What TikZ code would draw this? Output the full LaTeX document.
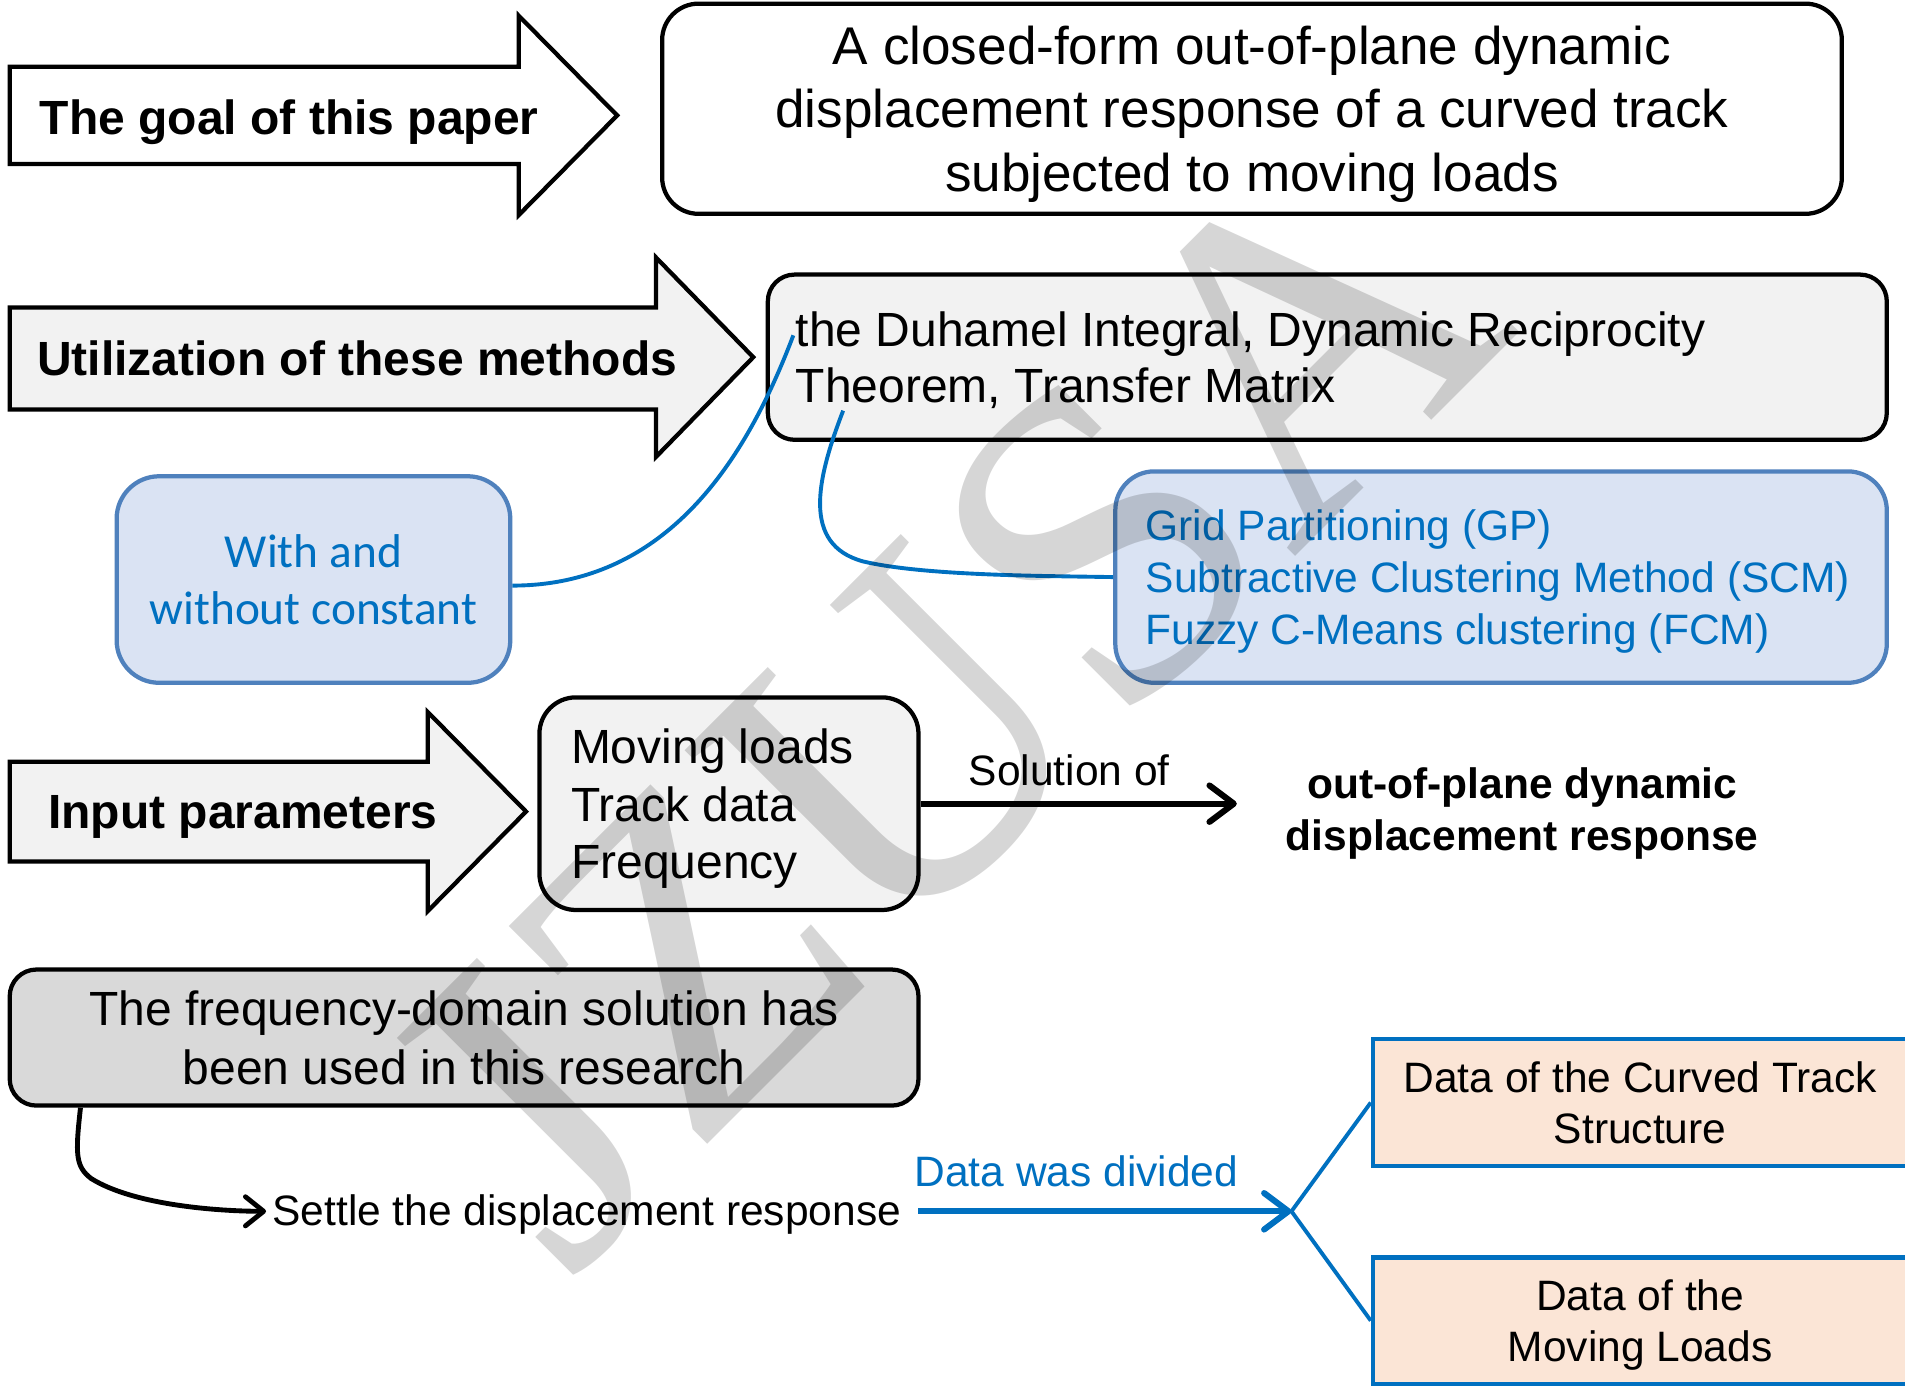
\documentclass[tikz,border=0pt]{standalone}
\usepackage{fontspec}
\setmainfont{Liberation Sans}
\newfontfamily\calibrifont{Carlito}
\newfontfamily\wmfont{Liberation Serif}
\usetikzlibrary{arrows.meta}
\definecolor{lgray}{HTML}{F2F2F2}
\definecolor{mgray}{HTML}{D9D9D9}
\definecolor{lblue}{HTML}{DAE3F3}
\definecolor{bborder}{HTML}{4F81BD}
\definecolor{tblue}{HTML}{0070C0}
\definecolor{peach}{HTML}{FBE5D6}
\newcommand\fsBig{\fontsize{43.7}{52.5}\selectfont}
\newcommand\fsMid{\fontsize{39.5}{46.5}\selectfont}
\newcommand\fsMidB{\fontsize{39.5}{47.5}\selectfont}
\newcommand\fsSmall{\fontsize{35}{42.3}\selectfont}
\newcommand\fsCal{\fontsize{39}{47}\selectfont}
\begin{document}
\begin{tikzpicture}[x=1pt,y=-1pt,
  every node/.append style={text depth=0pt},
  blockarrow/.style={draw=black,line width=3.5pt,line join=miter},
  arrowtext/.style={font=\bfseries\fsMid,inner sep=0pt},
  blackbox/.style={draw=black,line width=3.5pt,inner sep=0pt},
  bluebox/.style={draw=bborder,fill=lblue,line width=3.5pt,inner sep=0pt,text=tblue},
  peachbox/.style={draw=tblue,fill=peach,line width=3.5pt,inner sep=0pt,align=center,font=\fsSmall,minimum width=440pt},
  thickarrow/.style={draw=black,line width=5pt,-{Straight Barb[length=20pt,width=30pt,round]}},
  bluearrow/.style={draw=tblue,line width=5pt,-{Straight Barb[length=20pt,width=30pt,round]}},
  blackcurve/.style={draw=black,line width=4pt,-{Straight Barb[length=15pt,width=24pt,round]}},
  bluecurve/.style={draw=tblue,line width=3.2pt},
  blueline/.style={draw=tblue,line width=3.2pt},
  plaintext/.style={inner sep=0pt,font=\fsSmall}]
\useasboundingbox (0,0) rectangle (1568,1141);
\fill[white] (0,0) rectangle (1568,1141);

% block arrows
\draw[blockarrow,fill=white] (8,55) -- (427,55) -- (427,13) -- (508,95) -- (427,177) -- (427,135) -- (8,135) -- cycle;
\node[arrowtext] (goaltxt) at (238,96) {The goal of this paper};
\draw[blockarrow,fill=lgray] (8,253) -- (540,253) -- (540,212) -- (620,294) -- (540,376) -- (540,337) -- (8,337) -- cycle;
\node[arrowtext] (usetxt) at (294,295) {Utilization of these methods};
\draw[blockarrow,fill=lgray] (8,627) -- (352,627) -- (352,586) -- (433,668) -- (352,750) -- (352,709) -- (8,709) -- cycle;
\node[arrowtext] (inputtxt) at (200,668) {Input parameters};

% boxes
\node[blackbox,fill=white,rounded corners=30pt,minimum width=971pt,minimum height=173pt,align=center,font=\fsBig] (goal) at (1030.5,89.5)
  {A closed-form out-of-plane dynamic\\displacement response of a curved track\\subjected to moving loads};
\node[blackbox,fill=lgray,rounded corners=22pt,minimum width=921pt,minimum height=136pt,inner xsep=23pt,align=left,font=\fsMid] (methods) at (1092.5,294)
  {\makebox[875pt][l]{the Duhamel Integral, Dynamic Reciprocity}\\Theorem, Transfer Matrix};
\node[bluebox,rounded corners=35pt,minimum width=324pt,minimum height=170pt,align=center,font=\calibrifont\fsCal] (wwc) at (258,477)
  {With and\\without constant};
\node[bluebox,rounded corners=32pt,minimum width=635pt,minimum height=174pt,inner xsep=25pt,align=left,font=\fontsize{35}{42.5}\selectfont] (gp) at (1235.5,475)
  {\makebox[585pt][l]{Grid Partitioning (GP)}\\Subtractive Clustering Method (SCM)\\Fuzzy C-Means clustering (FCM)};
\node[blackbox,fill=lgray,rounded corners=30pt,minimum width=312pt,minimum height=175pt,inner xsep=26pt,align=left,font=\fsMidB] (inputs) at (600,661.5)
  {\makebox[260pt][l]{Moving loads}\\Track data\\Frequency};
\node[blackbox,fill=mgray,rounded corners=22pt,minimum width=748pt,minimum height=112pt,align=center,font=\fontsize{39.5}{48}\selectfont] (fdomain) at (382,854)
  {The frequency-domain solution has\\been used in this research};
\node[peachbox,minimum height=105pt] (curved) at (1350,907.5) {Data of the Curved Track\\Structure};
\node[peachbox,minimum height=104pt] (moving) at (1350,1087) {Data of the\\Moving Loads};

% texts
\node[plaintext] (soltxt) at (880,634) {Solution of};
\node[plaintext,font=\bfseries\fsSmall,align=center] (outtxt) at (1253,666) {out-of-plane dynamic\\displacement response};
\node[plaintext,anchor=west] (settle) at (224,996) {Settle the displacement response};
\node[plaintext,text=tblue] (divtxt) at (886,964) {Data was divided};

% coordinates
\coordinate (solend) at (1018,661.5);
\coordinate (fork) at (1063,997);
\coordinate (duhamel) at (653,276);
\coordinate (theorem) at (694,338);

% connectors
\draw[thickarrow] (inputs.east) -- (solend);
\draw[bluecurve] ([yshift=-5pt]wwc.east) .. controls (555,482) and (618,368) .. (duhamel);
\draw[bluecurve] (theorem) .. controls (672,395) and (660,448) .. (710,462) .. controls (760,474) and (860,474) .. (gp.west);
\draw[blackcurve] ([xshift=60pt]fdomain.south west) .. controls (62,950) and (62,960) .. (75,970) .. controls (110,992) and (180,997) .. ([xshift=-5pt,yshift=-1pt]settle.west);
\draw[bluearrow] ([xshift=14pt,yshift=-1pt]settle.east) -- (fork);
\draw[blueline] (fork) -- (curved.west);
\draw[blueline] (fork) -- (moving.west);

% watermark
\node[inner sep=0pt,font=\wmfont\fontsize{370}{370}\selectfont,text=black,text opacity=0.16,rotate=45] (wm) at (774,577) {JZUSA};
\end{tikzpicture}
\end{document}
